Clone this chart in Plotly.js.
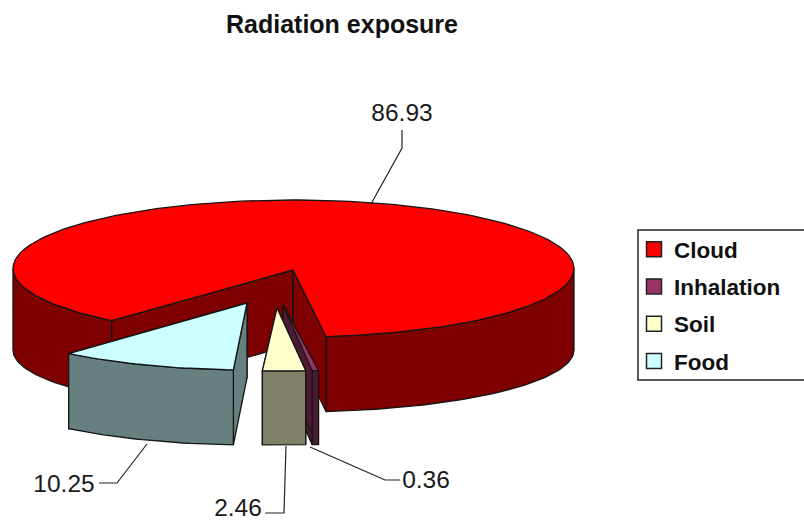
<!DOCTYPE html>
<html>
<head>
<meta charset="utf-8">
<script src="https://cdn.plot.ly/plotly-3.0.1.min.js"></script>
<style>html,body{margin:0;padding:0;background:#fff;overflow:hidden}#chart{width:804px;height:521px}</style>
</head>
<body>
<div id="chart"></div>
<script>
// Data
const categories = ["Cloud", "Inhalation", "Soil", "Food"];
const values = [86.93, 0.36, 2.46, 10.25];
const topColors = ["#FF0000", "#993366", "#FFFFCC", "#CCFFFF"];
const sideColors = ["#7F0000", "#4D1A33", "#808066", "#668080"];
const legendSwatches = ["#FF0000", "#993366", "#FFFFCC", "#CCFFFF"];

// Projection of the 3-D pie on to the page
const W = 804, H = 521;
const cx = 293.5, cy = 268.5, rx = 280.5, ry = 68.5;
const startAngle = 220.4;            // degrees clockwise from the top of the ellipse, start of Cloud
const rimOffsets = [[0, 0], [-7.5, 34], [-14, 34], [-43, 33]];
const apexPoints = [[293, 270], [283, 305], [277, 308], [247, 303]];
const depths = [74, 74, 74, 75];
const cloudBottom = { cy: 350, ry: 62 };

// Label placement and leader lines
const labelPos = [[402, 115], [426, 482], [238, 510], [64, 486]];
const leaders = [
  [[371, 204], [402, 148], [402, 130]],
  [[310, 447], [385, 480], [400, 480]],
  [[286, 446], [284, 513], [265, 513]],
  [[147, 444], [117, 483], [99, 483]]
];

const rad = d => d * Math.PI / 180;
const rim = (a, off, e) => {
  const E = e || { cy, ry };
  return [cx + off[0] + rx * Math.sin(rad(a)), E.cy + off[1] - E.ry * Math.cos(rad(a))];
};
const arc = (a0, a1, off, e) => {
  const n = Math.max(2, Math.ceil(Math.abs(a1 - a0) / 1.5));
  const pts = [];
  for (let i = 0; i <= n; i++) pts.push(rim(a0 + (a1 - a0) * i / n, off, e));
  return pts;
};
const total = values.reduce((s, v) => s + v, 0);

const traces = [];
function poly(pts, color) {
  const closed = pts.concat([pts[0]]);
  traces.push({
    type: "scatter", mode: "lines", x: closed.map(p => p[0]), y: closed.map(p => p[1]),
    fill: "toself", fillcolor: color, line: { color: "#151515", width: 1.3 },
    hoverinfo: "skip", showlegend: false
  });
}

let a = startAngle;
const ranges = values.map(v => { const s = a; a += v / total * 360; return [s, a]; });

// Cloud body
{
  const [a0, a1] = ranges[0];
  const off = [0, 0];
  const apex = apexPoints[0];
  const apexB = [apex[0], apex[1] + depths[0]];
  const lowerArc = (p, q) => arc(p, q, off, cloudBottom);
  poly(arc(a0, 270, off).concat(lowerArc(270, a0)), sideColors[0]);
  poly(arc(450, a1, off).concat(lowerArc(a1, 450)), sideColors[0]);
  poly([apex, rim(a0, off), rim(a0, off, cloudBottom), apexB], sideColors[0]);
  poly([apex, rim(a1, off), rim(a1, off, cloudBottom), apexB], sideColors[0]);
  poly([apex].concat(arc(a0, a1, off)), topColors[0]);
}

// Exploded slices, back to front
[1, 2, 3].forEach(i => {
  const [a0, a1] = ranges[i];
  const off = rimOffsets[i], d = depths[i], apex = apexPoints[i];
  const down = p => [p[0], p[1] + d];
  const face = ang => { const r = rim(ang, off); return [apex, r, down(r), down(apex)]; };
  poly(face(a1), sideColors[i]);
  poly(face(a0), sideColors[i]);
  const top = arc(a0, a1, off);
  poly(top.concat(top.slice().reverse().map(down)), sideColors[i]);
  poly([apex].concat(top), topColors[i]);
});

// Leader lines
leaders.forEach(l => traces.push({
  type: "scatter", mode: "lines", x: l.map(p => p[0]), y: l.map(p => p[1]),
  line: { color: "#222", width: 1.2 }, hoverinfo: "skip", showlegend: false
}));

// Value labels
traces.push({
  type: "scatter", mode: "text", x: labelPos.map(p => p[0]), y: labelPos.map(p => p[1]),
  text: values.map(v => v.toFixed(2)), textposition: "middle center",
  textfont: { family: "Liberation Sans, Arial, sans-serif", size: 24.5, color: "#1a1a1a" },
  hoverinfo: "skip", showlegend: false
});

// Legend entries
categories.forEach((c, i) => traces.push({
  type: "scatter", mode: "markers", x: [-100], y: [-100], name: c, legendgroup: c,
  marker: { symbol: "square", size: 15, color: legendSwatches[i], line: { color: "#222", width: 1.5 } },
  hoverinfo: "skip"
}));

const layout = {
  width: W, height: H,
  margin: { l: 0, r: 0, t: 0, b: 0 },
  paper_bgcolor: "#fff", plot_bgcolor: "#fff",
  title: {
    text: "<b>Radiation exposure</b>", x: 342 / W, xanchor: "center", y: 1 - 24 / H, yanchor: "middle",
    font: { family: "Liberation Sans, Arial, sans-serif", size: 25, color: "#111" }
  },
  xaxis: { range: [0, W], visible: false, fixedrange: true },
  yaxis: { range: [H, 0], visible: false, fixedrange: true },
  showlegend: true,
  legend: {
    x: 634 / W, xanchor: "left", y: 1 - 228 / H, yanchor: "top",
    bgcolor: "rgba(0,0,0,0)", borderwidth: 0,
    font: { family: "Liberation Sans, Arial, sans-serif", size: 22.5, color: "#111", weight: 700 },
    traceorder: "grouped", tracegroupgap: 5, itemwidth: 30
  },
  shapes: [{
    type: "rect", xref: "paper", yref: "paper", x0: 638 / W, x1: 1.02, y0: 1 - 380 / H, y1: 1 - 230 / H,
    line: { color: "#222", width: 1.5 }, fillcolor: "rgba(0,0,0,0)"
  }]
};

Plotly.newPlot("chart", traces, layout, { displayModeBar: false, staticPlot: true });
</script>
</body>
</html>
